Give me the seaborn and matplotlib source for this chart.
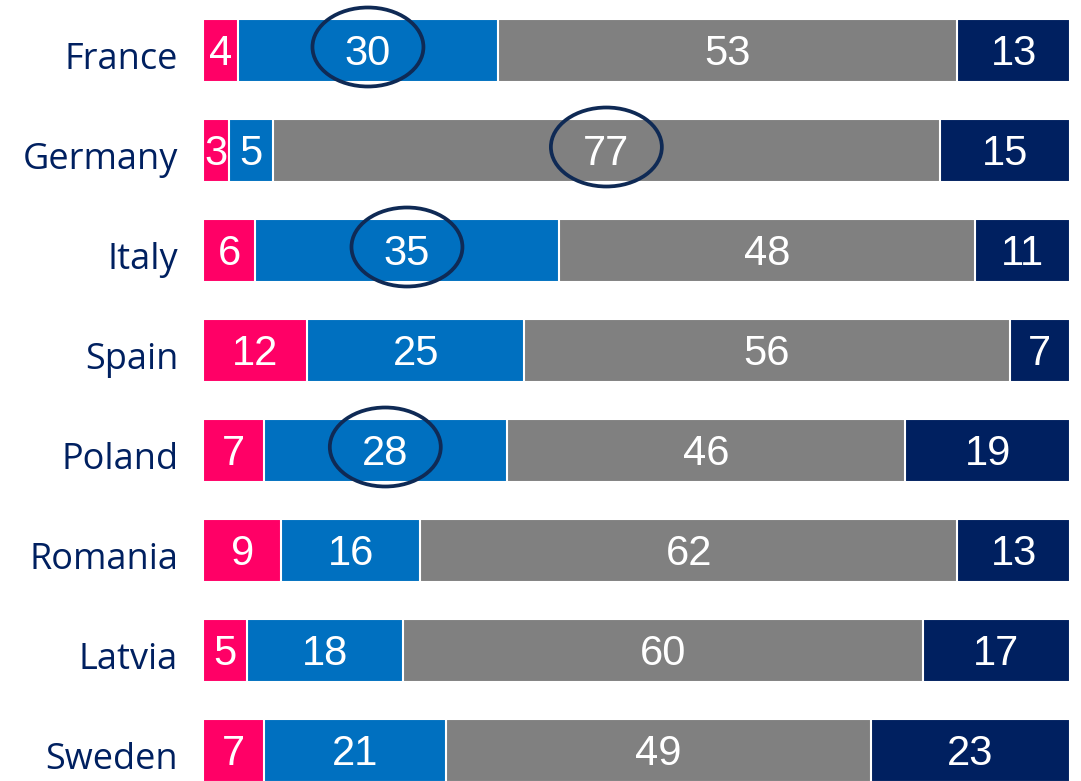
import numpy as np
import pandas as pd
import seaborn as sns
import matplotlib.pyplot as plt
import matplotlib.transforms as mtransforms
from matplotlib.patches import Ellipse

countries = ['France', 'Germany', 'Italy', 'Spain', 'Poland', 'Romania', 'Latvia', 'Sweden']
seg1 = [4, 3, 6, 12, 7, 9, 5, 7]
seg2 = [30, 5, 35, 25, 28, 16, 18, 21]
seg3 = [53, 77, 48, 56, 46, 62, 60, 49]
seg4 = [13, 15, 11, 7, 19, 13, 17, 23]
colors = ['#FF0066', '#0070C0', '#808080', '#002060']
# circled values: (country, segment index)
circled = [('France', 1), ('Germany', 2), ('Italy', 1), ('Poland', 1)]

df = pd.DataFrame({'country': countries, 's1': seg1, 's2': seg2, 's3': seg3, 's4': seg4})
segs = ['s1', 's2', 's3', 's4']
cum = df[segs].cumsum(axis=1)

sns.set_style('white')
fig = plt.figure(figsize=(10.81, 7.81), dpi=100)
ax = fig.add_axes([0.188, 0.0, 0.802, 1.0])

# draw cumulative totals back to front so the segments stack
for i in range(3, -1, -1):
    sns.barplot(x=cum[segs[i]], y=df['country'], color=colors[i], width=0.63,
                edgecolor='white', linewidth=1.5, orient='h', ax=ax, saturation=1)

for r, row in df.iterrows():
    start = 0
    for i, s in enumerate(segs):
        v = row[s]
        ax.text(start + v / 2, r + 0.035, str(v), ha='center', va='center', color='white',
                fontsize=30, family='Liberation Sans')
        start += v

for c, i in circled:
    r = countries.index(c)
    start = cum.iloc[r, i] - df.loc[r, segs[i]]
    cx = start + df.loc[r, segs[i]] / 2
    ax.add_patch(Ellipse((cx, r - 0.03), 12.8, 0.79, fill=False,
                         edgecolor='#0F2A55', linewidth=2.7, zorder=5))

ax.set_xlim(0, 100)
ax.set_ylim(7.31, -0.5)
ax.set_xlabel('')
ax.set_ylabel('')
ax.set_xticks([])
ax.tick_params(axis='y', length=0, pad=18)
shift = mtransforms.ScaledTranslation(0, -0.05, fig.dpi_scale_trans)
for lab in ax.get_yticklabels():
    lab.set_fontsize(26)
    lab.set_family('Open Sans')
    lab.set_color('#002060')
    lab.set_transform(lab.get_transform() + shift)
sns.despine(ax=ax, left=True, bottom=True)

fig.savefig('out.png', dpi=100)
